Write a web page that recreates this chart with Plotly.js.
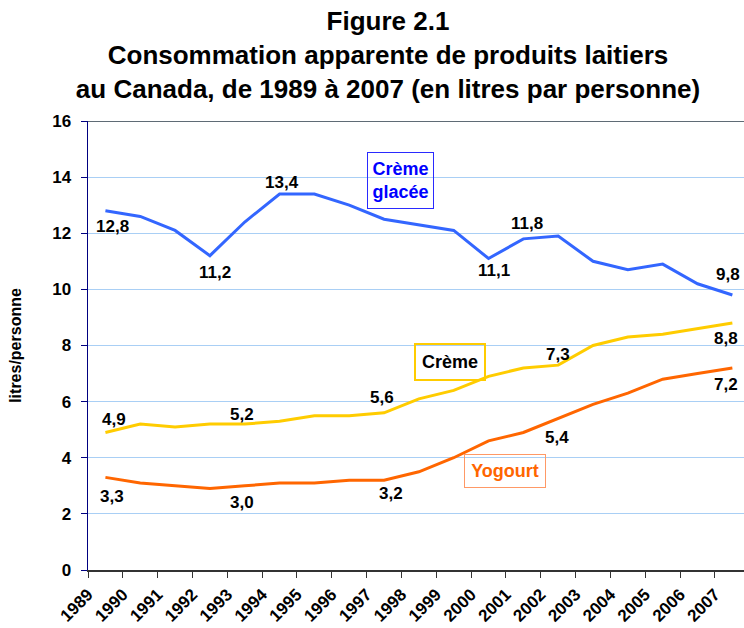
<!DOCTYPE html>
<html>
<head>
<meta charset="utf-8">
<script src="https://cdn.plot.ly/plotly-3.0.1.min.js"></script>
<style>
html,body{margin:0;padding:0;background:#fff;}
#chart{width:744px;height:628px;}
</style>
</head>
<body>
<div id="chart"></div>
<script>
// ---- Data ----
var years = [1989,1990,1991,1992,1993,1994,1995,1996,1997,1998,1999,2000,2001,2002,2003,2004,2005,2006,2007];
var yearLabels = ["1989","1990","1991","1992","1993","1994","1995","1996","1997","1998","1999","2000","2001","2002","2003","2004","2005","2006","2007"];
var cremeGlacee = [12.8,12.6,12.1,11.2,12.4,13.4,13.4,13.0,12.5,12.3,12.1,11.1,11.8,11.9,11.0,10.7,10.9,10.2,9.8];
var creme = [4.9,5.2,5.1,5.2,5.2,5.3,5.5,5.5,5.6,6.1,6.4,6.9,7.2,7.3,8.0,8.3,8.4,8.6,8.8];
var yogourt = [3.3,3.1,3.0,2.9,3.0,3.1,3.1,3.2,3.2,3.5,4.0,4.6,4.9,5.4,5.9,6.3,6.8,7.0,7.2];
var seriesNames = ["Crème<br>glacée","Crème","Yogourt"];
// indices of labelled points
var glaceLabelIdx = [0,3,5,11,12,18];
var cremeLabelIdx = [0,4,8,13,18];
var yogourtLabelIdx = [0,4,8,13,18];

// ---- Styles / offsets ----
var FONT = "Liberation Sans, Arial, Helvetica, sans-serif";
var colGlace = "#3366ff", colCreme = "#ffcc00", colYog = "#ff6600";
// pixel offsets [dx, dy] (dy positive = down) for each labelled point
var glaceOff = [[7,16],[5,17],[2,-11],[5,12],[4,-15],[-4,-20]];
var cremeOff = [[9,-13],[-3,-10],[-2,-15],[0,-11],[-6,15]];
var yogOff = [[7,19],[-3,17],[7,13],[-1,19],[-6,17]];

var xc = years.map(function(y){return y+0.5;});
function fmt(v){return v.toFixed(1).replace('.',',');}

function line(vals, color, name){
  return {x:xc, y:vals, type:'scatter', mode:'lines', name:name,
    line:{color:color, width:3}, hoverinfo:'skip'};
}
var data = [
  line(cremeGlacee, colGlace, 'Crème glacée'),
  line(creme, colCreme, 'Crème'),
  line(yogourt, colYog, 'Yogourt')
];

var ann = [];
function addLabels(vals, idx, off){
  idx.forEach(function(i,k){
    ann.push({x:xc[i], y:vals[i], xref:'x', yref:'y', text:fmt(vals[i]), showarrow:false,
      xshift:off[k][0], yshift:-off[k][1],
      font:{family:FONT, size:17, color:'#000', weight:700}});
  });
}
addLabels(cremeGlacee, glaceLabelIdx, glaceOff);
addLabels(creme, cremeLabelIdx, cremeOff);
addLabels(yogourt, yogourtLabelIdx, yogOff);

// series name boxes
ann.push({x:1997.98, y:13.89, xref:'x', yref:'y', text:seriesNames[0], showarrow:false,
  font:{family:FONT, size:18, color:'#0000ff', weight:700}, bordercolor:'#2a2aff', borderwidth:1,
  borderpad:0, width:65, height:55, bgcolor:'rgba(255,255,255,0)'});
ann.push({x:1999.38, y:7.41, xref:'x', yref:'y', text:seriesNames[1], showarrow:false,
  font:{family:FONT, size:18, color:'#000', weight:700}, bordercolor:colCreme, borderwidth:2,
  borderpad:0, width:68, height:34});
ann.push({x:2000.98, y:3.53, xref:'x', yref:'y', text:seriesNames[2], showarrow:false,
  font:{family:FONT, size:18, color:colYog, weight:700}, bordercolor:'#ff9966', borderwidth:1,
  borderpad:0, width:80, height:32});

var layout = {
  width:744, height:628,
  margin:{l:88, r:0, t:121, b:58},
  paper_bgcolor:'#fff', plot_bgcolor:'#fff',
  showlegend:false,
  font:{family:FONT, color:'#000'},
  title:{text:"Figure 2.1<br>Consommation apparente de produits laitiers<br>au Canada, de 1989 à 2007 (en litres par personne)",
    font:{family:FONT, size:26, color:'#000', weight:700},
    x:388/744, xref:'container', xanchor:'center', y:1-30/628, yref:'container', yanchor:'top'},
  xaxis:{range:[1989, 2007.834], tickvals:years, ticktext:yearLabels, tickangle:-45,
    tickfont:{family:FONT, size:17, color:'#000', weight:700},
    showline:true, linecolor:'#333333', linewidth:2, ticks:'outside', ticklen:6, tickcolor:'#333333', tickwidth:1,
    showgrid:false, zeroline:false, fixedrange:true},
  yaxis:{range:[0,16], dtick:2, tick0:0,
    tickfont:{family:FONT, size:17, color:'#000', weight:700},
    showline:true, linecolor:'#000080', linewidth:1.5, ticks:'outside', ticklen:6, tickcolor:'#000080', tickwidth:1,
    ticklabelstandoff:6,
    gridcolor:'#a9cff5', gridwidth:1, zeroline:false,
    title:{text:'litres/personne', font:{family:FONT, size:16, color:'#000', weight:700}, standoff:26}},
  shapes:[{type:'line', xref:'paper', yref:'y', x0:0, x1:1, y0:16, y1:16, line:{color:'#5f6b75', width:2}}],
  annotations:ann
};
Plotly.newPlot('chart', data, layout, {displayModeBar:false, staticPlot:true});
</script>
</body>
</html>
